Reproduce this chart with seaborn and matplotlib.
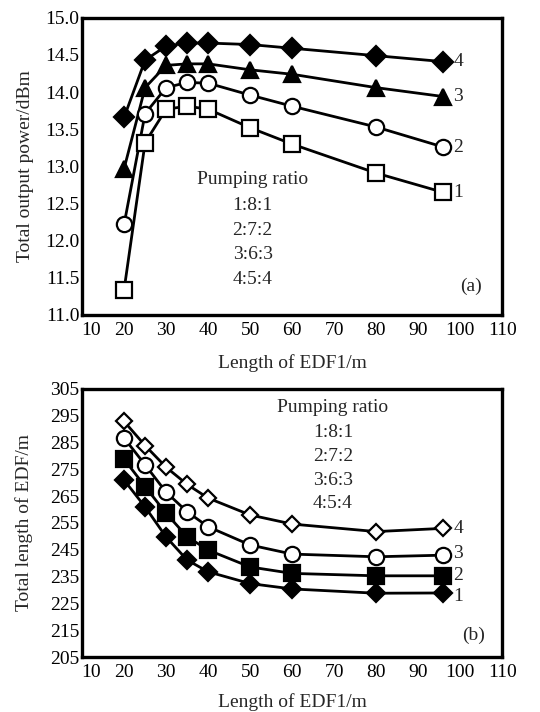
import matplotlib
matplotlib.use("Agg")
import matplotlib.pyplot as plt
import matplotlib.transforms as mtransforms
import seaborn as sns
import numpy as np

# ---- data ----
edf1_len = [20, 25, 30, 35, 40, 50, 60, 80, 96]

# (a) total output power (dBm)
power_1 = [11.34, 13.32, 13.77, 13.81, 13.77, 13.52, 13.30, 12.91, 12.65]
power_2 = [12.22, 13.71, 14.06, 14.13, 14.12, 13.96, 13.81, 13.53, 13.26]
power_3 = [12.97, 14.06, 14.36, 14.38, 14.38, 14.30, 14.24, 14.06, 13.94]
power_4 = [13.66, 14.43, 14.62, 14.66, 14.66, 14.64, 14.59, 14.49, 14.41]

# (b) total EDF length (m)
total_1 = [271.0, 261.0, 249.8, 241.2, 236.8, 232.4, 230.4, 228.8, 228.9]
total_2 = [278.8, 268.6, 258.6, 249.9, 244.9, 238.6, 236.2, 235.3, 235.3]
total_3 = [286.7, 276.7, 266.5, 259.2, 253.6, 246.8, 243.4, 242.4, 243.0]
total_4 = [292.9, 283.9, 275.8, 269.4, 264.3, 258.0, 254.6, 251.8, 253.0]

curve_labels = ["1", "2", "3", "4"]
ratio_labels = ["1:8:1", "2:7:2", "3:6:3", "4:5:4"]

sns.set_style("white")
plt.rcParams['font.family'] = ['Liberation Serif', 'DejaVu Serif']

fig = plt.figure(figsize=(5.4, 7.12), dpi=100)
ax1 = fig.add_axes([0.152, 0.5576, 0.778, 0.4174])
ax2 = fig.add_axes([0.152, 0.0772, 0.778, 0.3765])

FS = 14
LW = 2.0

def draw(ax, y, marker, filled, ms):
    kw = dict(marker=marker, markersize=ms, markeredgewidth=1.6,
              markeredgecolor='black',
              markerfacecolor='black' if filled else 'white')
    sns.lineplot(x=edf1_len, y=y, ax=ax, color='black', linewidth=LW, **kw)

# (a)
draw(ax1, power_4, 'D', True, 10)
draw(ax1, power_3, '^', True, 11)
draw(ax1, power_2, 'o', False, 11)
draw(ax1, power_1, 's', False, 11)

# (b)
draw(ax2, total_4, 'D', False, 8.5)
draw(ax2, total_3, 'o', False, 11)
draw(ax2, total_2, 's', True, 11.5)
draw(ax2, total_1, 'D', True, 9.5)

for ax in (ax1, ax2):
    ax.set_xlim(10, 110)
    ax.set_xticks(range(10, 111, 10))
    for s in ax.spines.values():
        s.set_linewidth(2.4)
        s.set_color('black')
    ax.tick_params(axis='both', direction='in', length=2.5, width=2,
                   labelsize=FS, pad=2, colors='black')
    ax.tick_params(axis='x', pad=5)

ax1.set_xlabel("Length of EDF1/m", fontsize=FS, labelpad=11)
ax2.set_xlabel("Length of EDF1/m", fontsize=FS, labelpad=9)

ax1.set_ylim(11.0, 15.0)
ax1.set_yticks(np.arange(11.0, 15.01, 0.5))
ax1.set_yticklabels([f"{v:.1f}" for v in np.arange(11.0, 15.01, 0.5)])
ax1.set_ylabel("Total output power/dBm", fontsize=FS, labelpad=8)

ax2.set_ylim(205, 305)
ax2.set_yticks(range(205, 306, 10))
ax2.set_ylabel("Total length of EDF/m", fontsize=FS, labelpad=12)

# shift first x tick label right (as in the reference)
for ax in (ax1, ax2):
    lab = ax.get_xticklabels()[0]
    lab.set_transform(lab.get_transform() +
                      mtransforms.ScaledTranslation(9 / 100, 0, fig.dpi_scale_trans))

# curve labels
for lab, ys in zip(curve_labels, [power_1, power_2, power_3, power_4]):
    ax1.text(edf1_len[-1] + 2.4, ys[-1], lab, fontsize=FS, va='center', ha='left')
for lab, ys, dy in zip(curve_labels, [total_1, total_2, total_3, total_4],
                       [-1.5, 0, 0.6, 0]):
    ax2.text(edf1_len[-1] + 2.4, ys[-1] + dy, lab, fontsize=FS, va='center', ha='left')

# legend-like text blocks
ax1.text(50.6, 12.82, "Pumping ratio", fontsize=FS, ha='center', va='center')
for i, r in enumerate(ratio_labels):
    ax1.text(50.6, 12.47 - i * 0.33, r, fontsize=FS, ha='center', va='center')
ax1.text(102.6, 11.39, "(a)", fontsize=FS, ha='center', va='center')

ax2.text(69.7, 297.9, "Pumping ratio", fontsize=FS, ha='center', va='center')
for i, r in enumerate(ratio_labels):
    ax2.text(69.7, 288.8 - i * 8.9, r, fontsize=FS, ha='center', va='center')
ax2.text(103.3, 213.0, "(b)", fontsize=FS, ha='center', va='center')

fig.savefig("out.png", dpi=100, facecolor='white')
